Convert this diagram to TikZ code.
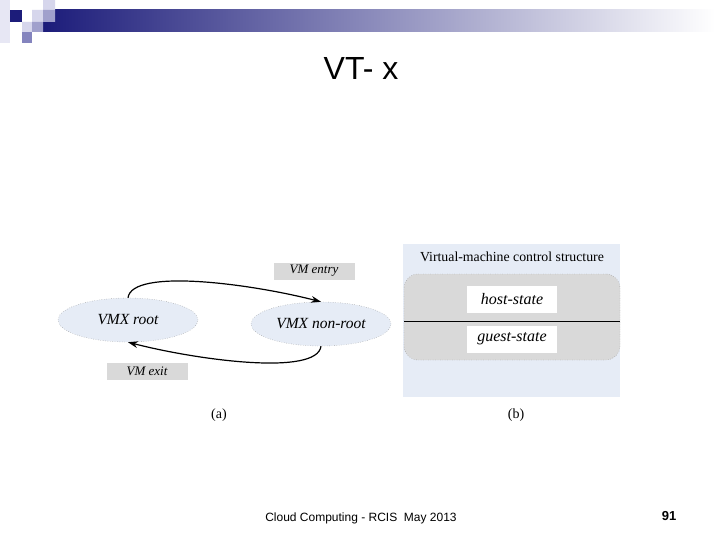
\documentclass[tikz,border=0pt]{standalone}
\usepackage{fontspec}
\setmainfont{Liberation Serif}
\newfontfamily\arialf{Liberation Sans}
\definecolor{navybar}{RGB}{28,28,122}
\definecolor{lavlight}{RGB}{214,214,236}
\definecolor{lavmid}{RGB}{160,160,204}
\definecolor{lavdark}{RGB}{132,132,190}
\definecolor{paleblue}{RGB}{230,236,246}
\definecolor{boxgray}{RGB}{217,217,217}
\usetikzlibrary{arrows.meta,positioning,shapes.geometric,calc}

\begin{document}
\begin{tikzpicture}[x=1pt,y=-1pt,
      st/.style={ellipse,draw=gray,dotted,fill=paleblue,inner sep=0pt,
                 minimum width=140pt,minimum height=44pt,
                 font=\fontsize{15.5}{17}\selectfont\itshape},
      lb/.style={fill=boxgray,minimum width=81pt,minimum height=17pt,inner sep=0pt,
                 font=\fontsize{13}{14}\selectfont\itshape},
      wb/.style={fill=white,minimum width=90pt,minimum height=27pt,inner sep=0pt,
                 font=\fontsize{16}{18}\selectfont\itshape},
      a/.style={-{Stealth[length=3.5mm,width=2.4mm]},line width=1.2pt}]
      \useasboundingbox[fill=white] (0,0) rectangle (720,540);
      % slide header
      \fill[lavlight!60] (0,0) rectangle (10,43);
      \shade[left color=navybar,right color=white] (43,10) rectangle (715,32);
      \fill[navybar] (10,10) rectangle (22,22);
      \fill[lavlight] (32,10) rectangle (43,22) (43,0) rectangle (55,10)
        (22,22) rectangle (32,32);
      \fill[lavmid] (43,10) rectangle (55,22) (32,22) rectangle (43,32);
      \fill[lavdark] (22,32) rectangle (32,43);
      \node[font=\arialf\fontsize{32}{36}\selectfont] (title) at (361,68) {VT- x};
      % (a)
      \node[st] (root) at (128,320) {VMX root};
      \node[st] (nonroot) at (321,324) {VMX non-root};
      \node[lb] (entry) at (314,271) {VM entry};
      \node[lb] (exit) at (147,371) {VM exit};
      \draw[a] (root.north) .. controls +(4,-30) and +(-70,-18) .. (nonroot.north);
      \draw[a] (nonroot.south) .. controls +(-4,30) and +(70,18) .. (root.south);
      % (b)
      \node[fill=paleblue,minimum width=217pt,minimum height=153pt,inner sep=0pt]
        (vmcsbg) at (511.5,320.5) {};
      \node[font=\fontsize{13.8}{15}\selectfont] (vmcst) at (512,257)
        {Virtual-machine control structure};
      \node[draw=gray,dotted,fill=boxgray,rounded corners=14pt,inner sep=0pt,
        minimum width=216pt,minimum height=86pt] (vmcs) at (512,317) {};
      \coordinate (sepl) at (404,321);
      \coordinate (sepr) at (620,321);
      \draw[line width=0.8pt] (sepl) -- (sepr);
      \node[wb] (host) at (512,299) {host-state};
      \node[wb] (guest) at (512,339) {guest-state};
      \node[font=\fontsize{14}{16}\selectfont] (capa) at (219,415) {(a)};
      \node[font=\fontsize{14}{16}\selectfont] (capb) at (516,415) {(b)};
      % footer
      \node[font=\arialf\fontsize{12}{14}\selectfont] (foot) at (361,518)
        {Cloud Computing - RCIS\ \ May 2013};
      \node[font=\arialf\bfseries\fontsize{13}{15}\selectfont] (pnum) at (669,516) {91};
    \end{tikzpicture}
\end{document}
